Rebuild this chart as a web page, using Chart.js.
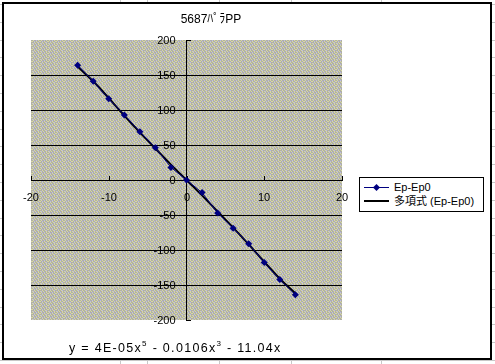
<!DOCTYPE html>
<html>
<head>
<meta charset="utf-8">
<script src="https://cdn.jsdelivr.net/npm/chart.js@4/dist/chart.umd.min.js"></script>
<style>
  body {
    margin: 0; width: 495px; height: 364px; overflow: hidden; position: relative;
    font-family: "Liberation Sans", "Noto Sans CJK JP", sans-serif;
    background-color: #fff;
    background-image:
      linear-gradient(90deg, transparent 120px, #c8c8c8 120px, #c8c8c8 121px, transparent 121px,
                             transparent 147px, #c8c8c8 147px, #c8c8c8 148px, transparent 148px,
                             transparent 219px, #c8c8c8 219px, #c8c8c8 220px, transparent 220px,
                             transparent 291px, #c8c8c8 291px, #c8c8c8 292px, transparent 292px,
                             transparent 381px, #c8c8c8 381px, #c8c8c8 382px, transparent 382px),
      repeating-linear-gradient(180deg, transparent 0, transparent 4px, #c8c8c8 4px, #c8c8c8 5px, transparent 5px, transparent 17.8px);
  }
  #frame { position: absolute; left: 2px; top: 2px; width: 486px; height: 354px; border: 2px solid #000; background: #fff; }
  #chart { position: absolute; left: 0; top: 0; }
  #title { position: absolute; left: 150px; width: 122px; top: 9px; text-align: center; font-size: 12px; color: #000; }
  #legend { position: absolute; left: 359px; top: 177px; width: 123px; height: 33px; border: 1px solid #000; background: #fff; font-size: 11px; }
  .row { position: absolute; left: 0; height: 13px; width: 123px; }
  .sample { position: absolute; left: 4px; width: 25px; top: 6px; }
  .row span.txt { position: absolute; left: 34px; top: 0; line-height: 13px; white-space: nowrap; }
  .dia { position: absolute; left: 10px; top: -3px; width: 5px; height: 5px; background: #000080; transform: rotate(45deg); }
  #eq { position: absolute; left: 69px; top: 340px; font-size: 12.5px; white-space: nowrap; letter-spacing: 1.3px; }
  #eq sup { font-size: 8px; position: relative; top: -1px; }
</style>
</head>
<body>
<div id="frame"></div>
<canvas id="chart" width="495" height="364"></canvas>
<div id="title"></div>
<div id="legend">
  <div class="row" style="top:3px"><div class="sample" style="border-top:1px solid #000080"><div class="dia"></div></div><span class="txt" id="lg0"></span></div>
  <div class="row" style="top:17px"><div class="sample" style="border-top:2px solid #000;top:5px"></div><span class="txt" id="lg1"></span></div>
</div>
<div id="eq">y = 4E-05x<sup>5</sup> - 0.0106x<sup>3</sup> - 11.04x</div>
<script>
// タイトル・系列名
const chartTitle = '5687ﾊﾟﾗPP';
const seriesName = 'Ep-Ep0';
const trendName = '多項式 (Ep-Ep0)';

// データ
const xVals = [-14, -12, -10, -8, -6, -4, -2, 0, 2, 4, 6, 8, 10, 12, 14];
const epVals = [164, 141, 116, 93, 69, 46, 18, 0, -18, -47, -69, -91, -118, -142, -164];
const trendVals = [162, 141, 117, 92, 68, 45, 22, 0, -22, -45, -68, -92, -117, -141, -162];

// 軸
const xTicks = [-20, -10, 0, 10, 20];
const yTicks = [200, 150, 100, 50, 0, -50, -100, -150, -200];

document.getElementById('title').textContent = chartTitle;
document.getElementById('lg0').textContent = seriesName;
document.getElementById('lg1').textContent = trendName;

// 背景のディザ模様
function makePattern() {
    const map = [
        'GYGGBGYG',
        'YGBGYGGY',
        'GGYGGYBG',
        'YBGYGGYG'
    ];
    const cols = { G: '#b0b0a6', Y: '#d8d8a2', B: '#b8b8ec' };
    const c = document.createElement('canvas');
    c.width = 8; c.height = 4;
    const g = c.getContext('2d');
    map.forEach((row, y) => {
        [...row].forEach((ch, x) => {
            g.fillStyle = cols[ch];
            g.fillRect(x, y, 1, 1);
        });
    });
    return g.createPattern(c, 'repeat');
}

const bgPlugin = {
    id: 'plotBg',
    beforeDraw(chart) {
        const { ctx, chartArea: a } = chart;
        ctx.save();
        ctx.fillStyle = makePattern();
        ctx.fillRect(a.left, a.top, a.right - a.left, a.bottom - a.top);
        ctx.restore();
    }
};

// 目盛ラベルと目盛線
const tickPlugin = {
    id: 'axisLabels',
    beforeDatasetsDraw(chart) {
        const { ctx, scales: { x, y } } = chart;
        const x0 = x.getPixelForValue(0);
        const y0 = y.getPixelForValue(0);
        ctx.save();
        ctx.fillStyle = '#000';
        ctx.strokeStyle = '#000';
        ctx.lineWidth = 1;
        ctx.font = '11px "Liberation Sans", sans-serif';
        ctx.textAlign = 'right';
        ctx.textBaseline = 'middle';
        yTicks.forEach(v => {
            const py = Math.round(y.getPixelForValue(v));
            ctx.fillText(String(v), x0 - 11, py + 0.5);
            ctx.beginPath();
            ctx.moveTo(Math.round(x0), py + 0.5);
            ctx.lineTo(Math.round(x0) + 4, py + 0.5);
            ctx.stroke();
        });
        ctx.textAlign = 'center';
        ctx.textBaseline = 'top';
        xTicks.forEach(v => {
            const px = Math.round(x.getPixelForValue(v));
            ctx.fillText(String(v), px, y0 + 12);
            ctx.beginPath();
            ctx.moveTo(px + 0.5, y0);
            ctx.lineTo(px + 0.5, y0 - 4);
            ctx.stroke();
        });
        ctx.restore();
    }
};

new Chart(document.getElementById('chart'), {
    type: 'line',
    data: {
        datasets: [{
            label: seriesName,
            data: xVals.map((v, i) => ({ x: v, y: epVals[i] })),
            borderColor: '#000080',
            backgroundColor: '#000080',
            borderWidth: 1,
            pointStyle: 'rectRot',
            pointRadius: 3.5,
            pointBorderWidth: 0,
            tension: 0,
            order: 1
        }, {
            label: trendName,
            data: xVals.map((v, i) => ({ x: v, y: trendVals[i] })),
            borderColor: '#000',
            borderWidth: 2,
            pointRadius: 0,
            cubicInterpolationMode: 'monotone',
            order: 2
        }]
    },
    options: {
        responsive: false,
        animation: false,
        devicePixelRatio: 1,
        layout: { padding: { left: 31, top: 40, right: 153, bottom: 44 } },
        plugins: { legend: { display: false }, tooltip: { enabled: false } },
        scales: {
            x: {
                type: 'linear',
                position: { y: 0 },
                min: -20, max: 20,
                ticks: { display: false, stepSize: 10 },
                grid: { display: true, drawOnChartArea: false, drawTicks: false },
                border: { display: true, color: '#000', width: 1 }
            },
            y: {
                type: 'linear',
                position: { x: 0 },
                min: -200, max: 200,
                ticks: { display: false, stepSize: 50 },
                grid: {
                    drawTicks: false,
                    color: c => (Math.abs(c.tick.value) === 200 ? 'rgba(0,0,0,0)' : '#000'),
                    lineWidth: 1
                },
                border: { display: true, color: '#000', width: 1 }
            }
        }
    },
    plugins: [bgPlugin, tickPlugin]
});
</script>
</body>
</html>
